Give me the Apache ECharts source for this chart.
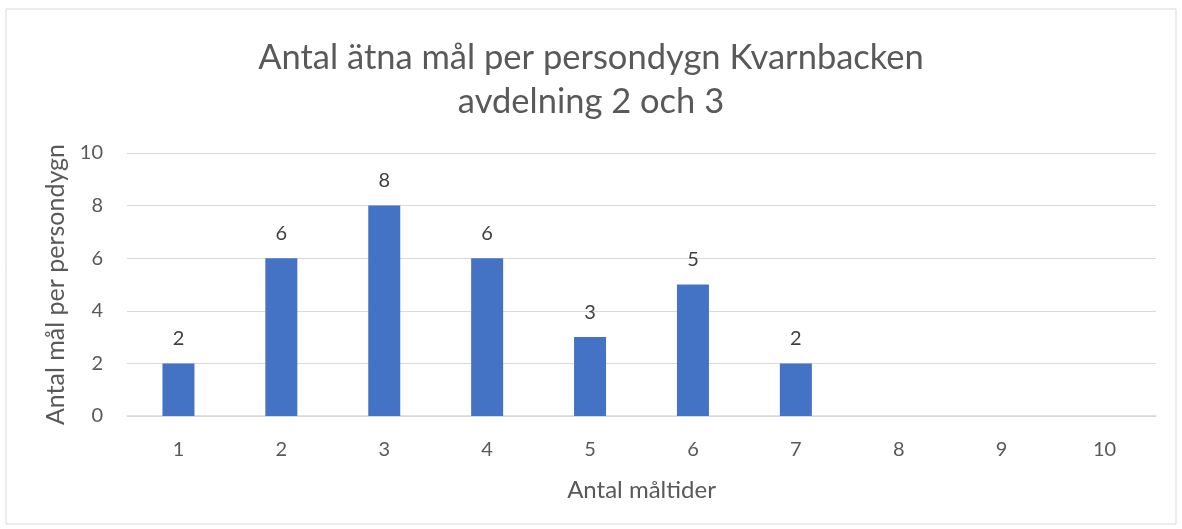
<!DOCTYPE html>
<html><head><meta charset="utf-8">
<script src="https://cdn.jsdelivr.net/npm/echarts@6/dist/echarts.min.js"></script>
<style>html,body{margin:0;padding:0;background:#fff}#c{width:1182px;height:529px}</style>
</head><body><div id="c"></div>
<script>
const categories = ['1','2','3','4','5','6','7','8','9','10'];
const values = [2,6,8,6,3,5,2,null,null,null];
const titleText = 'Antal ätna mål per persondygn Kvarnbacken\navdelning 2 och 3';
const xName = 'Antal måltider';
const yName = 'Antal mål per persondygn';
const font = 'Lato';
const chart = echarts.init(document.getElementById('c'), null, {renderer:'canvas'});
chart.setOption({
  backgroundColor:'#fff',
  animation:false,
  graphic:[{type:'rect',shape:{x:6,y:9,width:1170,height:515},style:{fill:'none',stroke:'#d9d9d9',lineWidth:1}}],
  title:{text:titleText,left:'center',top:31,textStyle:{fontFamily:font,fontSize:34.5,fontWeight:'normal',color:'#595959',lineHeight:44}},
  grid:{left:127,right:26,top:153,bottom:113},
  xAxis:{type:'category',data:categories,name:xName,nameLocation:'middle',nameGap:62,
    nameTextStyle:{fontFamily:font,fontSize:24,color:'#595959'},
    axisLine:{lineStyle:{color:'#d9d9d9',width:1.5}},axisTick:{show:false},
    axisLabel:{fontFamily:font,fontSize:20,color:'#595959',margin:24}},
  yAxis:{type:'value',min:0,max:10,interval:2,name:yName,nameLocation:'middle',nameGap:57,
    nameTextStyle:{fontFamily:font,fontSize:25,color:'#595959'},
    axisLine:{show:false},axisTick:{show:false},
    axisLabel:{fontFamily:font,fontSize:20,color:'#595959',margin:24}, 
    splitLine:{lineStyle:{color:'#d9d9d9',width:1.2}}},
  series:[{type:'bar',data:values,barWidth:32,itemStyle:{color:'#4472c4'},
    label:{show:true,position:'top',distance:15,fontFamily:font,fontSize:20,color:'#404040'}}]
});
</script></body></html>
